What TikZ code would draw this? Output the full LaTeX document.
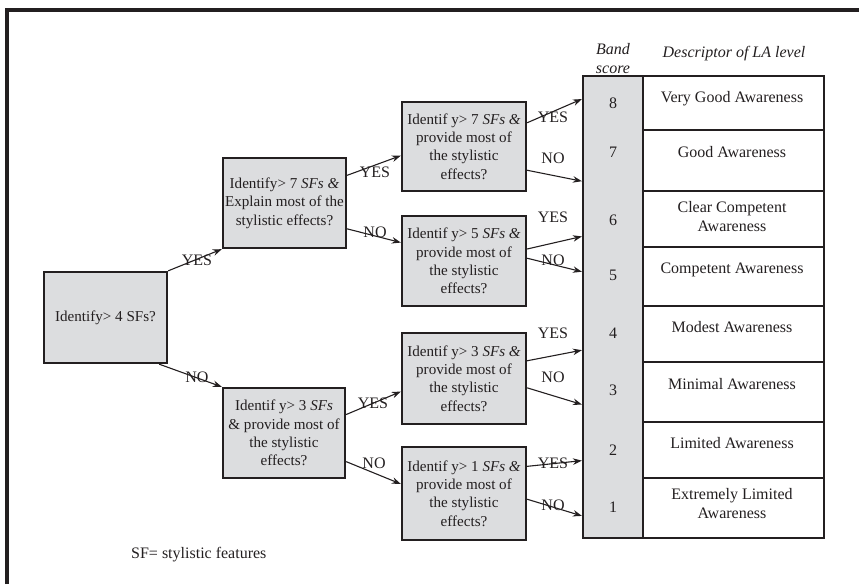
\documentclass[tikz,border=0pt]{standalone}
\usepackage{fontspec}
\setmainfont{Liberation Serif}
\usetikzlibrary{arrows.meta,calc}
\definecolor{ink}{HTML}{231F20}
\definecolor{boxfill}{HTML}{DCDDDF}

\begin{document}
\begin{tikzpicture}[x=1pt,y=-1pt,
  txt/.style={font=\fontsize{16}{18.5}\selectfont, text=ink, inner sep=0pt},
  qbox/.style={txt, font=\fontsize{15.1}{18.4}\selectfont, draw=ink, line width=2.3pt, fill=boxfill, align=center},
  dbox/.style={qbox, minimum width=124pt},
  cell/.style={draw=ink, line width=2.2pt, fill=white, minimum width=181pt, inner sep=0pt},
  desc/.style={txt, anchor=base, align=center, font=\fontsize{16}{19}\selectfont},
  score/.style={txt, anchor=base},
  lbl/.style={txt, anchor=center},
  arr/.style={draw=ink, line width=1.1pt, -{Stealth[length=9pt,width=6.5pt]}}
]
\useasboundingbox (0,0) rectangle (859,584);

% outer frame (top and left edges)
\draw[ink, line width=4pt, line join=miter] (7,584) -- (7,9.5) -- (859,9.5);

% decision boxes
\node[qbox, minimum width=123pt, minimum height=91pt] (A) at (105.5,317.5) {Identify> 4 SFs?};
\node[qbox, minimum width=123pt, minimum height=90pt] (B) at (284.5,203)
  {Identify> 7 \textit{SFs \&}\\Explain most of the\\stylistic effects?};
\node[qbox, minimum width=122pt, minimum height=90pt] (C) at (284,433)
  {Identif y> 3 \textit{SFs}\\\& provide most of\\the stylistic\\effects?};
\node[dbox, minimum height=89pt] (D1) at (464,146.5)
  {Identif y> 7 \textit{SFs \&}\\provide most of\\the stylistic\\effects?};
\node[dbox, minimum height=90pt] (D2) at (464,261)
  {Identif y> 5 \textit{SFs \&}\\provide most of\\the stylistic\\effects?};
\node[dbox, minimum height=91pt] (D3) at (464,378.5)
  {Identif y> 3 \textit{SFs \&}\\provide most of\\the stylistic\\effects?};
\node[dbox, minimum height=93pt] (D4) at (464,493.5)
  {Identif y> 1 \textit{SFs \&}\\provide most of\\the stylistic\\effects?};

% band score column
\node[draw=ink, line width=2.2pt, fill=boxfill, minimum width=60pt, minimum height=462pt, inner sep=0pt] (band) at (613,307) {};

% descriptor cells
\node[cell, minimum height=54pt] (r1) at (733.5,103) {};
\node[cell, minimum height=61pt] (r2) at (733.5,160.5) {};
\node[cell, minimum height=56pt] (r3) at (733.5,219) {};
\node[cell, minimum height=59pt] (r4) at (733.5,276.5) {};
\node[cell, minimum height=56pt] (r5) at (733.5,334) {};
\node[cell, minimum height=60pt] (r6) at (733.5,392) {};
\node[cell, minimum height=56pt] (r7) at (733.5,450) {};
\node[cell, minimum height=60pt] (r8) at (733.5,508) {};

% headers (base anchor sits on the last line)
\node[txt, anchor=base, align=center, font=\fontsize{16}{18.5}\selectfont\itshape] (hband) at (613,73) {Band\\score};
\node[txt, anchor=base, font=\fontsize{16}{18}\selectfont\itshape] (hdesc) at (734,57) {Descriptor of LA level};

% band scores
\node[score] (s8) at (613,108.3) {8};
\node[score] (s7) at (613,157.3) {7};
\node[score] (s6) at (613,225.3) {6};
\node[score] (s5) at (613,280.3) {5};
\node[score] (s4) at (613,338.3) {4};
\node[score] (s3) at (613,395.3) {3};
\node[score] (s2) at (613,455.3) {2};
\node[score] (s1) at (613,512.3) {1};

% descriptors
\node[desc] (t1) at (732,102.3) {Very Good Awareness};
\node[desc] (t2) at (732,157.3) {Good Awareness};
\node[desc] (t3) at (732,231.3) {Clear Competent\\Awareness};
\node[desc] (t4) at (732,273.3) {Competent Awareness};
\node[desc] (t5) at (732,332.3) {Modest Awareness};
\node[desc] (t6) at (732,389.3) {Minimal Awareness};
\node[desc] (t7) at (732,448.3) {Limited Awareness};
\node[desc] (t8) at (732,518.3) {Extremely Limited\\Awareness};

% connectors between decision boxes
\draw[arr] (A.north east) -- (B.south west);
\draw[arr] ([xshift=-9pt]A.south east) -- (C.north west);
\draw[arr] ($(B.north east)!0.20!(B.south east)$) -- ($(D1.north west)!0.60!(D1.south west)$);
\draw[arr] ($(B.north east)!0.78!(B.south east)$) -- ($(D2.north west)!0.30!(D2.south west)$);
\draw[arr] ($(C.north east)!0.30!(C.south east)$) -- ($(D3.north west)!0.64!(D3.south west)$);
\draw[arr] ($(C.north east)!0.81!(C.south east)$) -- ($(D4.north west)!0.40!(D4.south west)$);

% connectors into the band score column
\draw[arr] ($(D1.north east)!0.24!(D1.south east)$) -- ($(band.north west)!0.052!(band.south west)$);
\draw[arr] ($(D1.north east)!0.76!(D1.south east)$) -- ($(band.north west)!0.229!(band.south west)$);
\draw[arr] ($(D2.north east)!0.37!(D2.south east)$) -- ($(band.north west)!0.348!(band.south west)$);
\draw[arr] ($(D2.north east)!0.47!(D2.south east)$) -- ($(band.north west)!0.424!(band.south west)$);
\draw[arr] ($(D3.north east)!0.31!(D3.south east)$) -- ($(band.north west)!0.593!(band.south west)$);
\draw[arr] ($(D3.north east)!0.60!(D3.south east)$) -- ($(band.north west)!0.710!(band.south west)$);
\draw[arr] ($(D4.north east)!0.215!(D4.south east)$) -- ($(band.north west)!0.831!(band.south west)$);
\draw[arr] ($(D4.north east)!0.56!(D4.south east)$) -- ($(band.north west)!0.950!(band.south west)$);

% branch labels
\node[lbl] (yA) at (197,260) {YES};
\node[lbl] (nA) at (197,377) {NO};
\node[lbl] (yB) at (375,172) {YES};
\node[lbl] (nB) at (375,232) {NO};
\node[lbl] (yC) at (373,403) {YES};
\node[lbl] (nC) at (374,463) {NO};
\node[lbl] (y1) at (553,117) {YES};
\node[lbl] (n1) at (553,158) {NO};
\node[lbl] (y2) at (553,217) {YES};
\node[lbl] (n2) at (553,260) {NO};
\node[lbl] (y3) at (553,333) {YES};
\node[lbl] (n3) at (553,377) {NO};
\node[lbl] (y4) at (553,463) {YES};
\node[lbl] (n4) at (553,505) {NO};

% footnote
\node[txt, anchor=base west] (note) at (131,558) {SF= stylistic features};
\end{tikzpicture}
\end{document}
